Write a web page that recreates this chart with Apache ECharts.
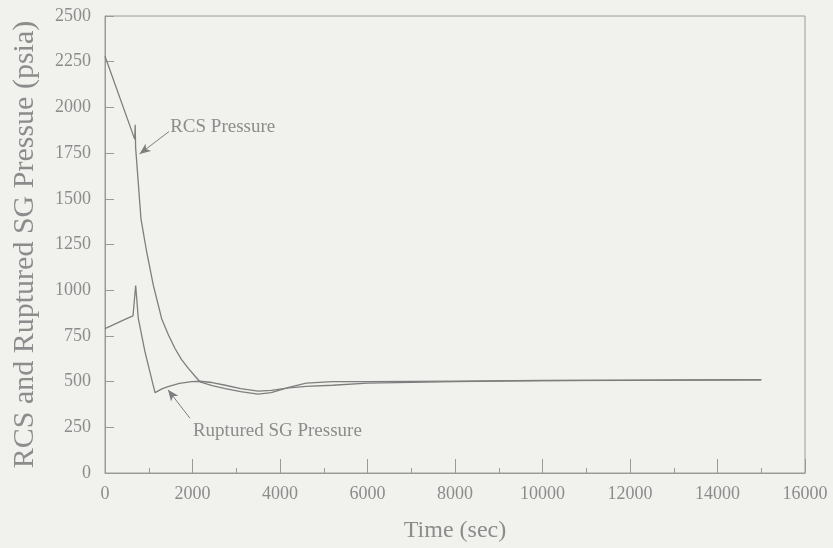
<!DOCTYPE html>
<html>
<head>
<meta charset="utf-8">
<script src="https://cdn.jsdelivr.net/npm/echarts@6/dist/echarts.min.js"></script>
<style>
  html, body { margin: 0; padding: 0; background: #f1f1ee; }
  #chart { width: 833px; height: 548px; }
</style>
</head>
<body>
<div id="chart"></div>
<script>
// Time (sec) and pressure (psia)
const rcsTime  = [0, 680, 690, 700, 823, 953, 1105, 1295, 1450, 1600, 1750, 1905, 2050, 2171, 2450, 2750, 3100, 3500, 3800, 4200, 4600, 5200, 6000, 8000, 10000, 12000, 15000];
const rcsPress = [2280, 1825, 1905, 1780, 1389, 1209, 1026, 844, 755, 681, 620, 572, 532, 499, 478, 462, 445, 432, 440, 468, 492, 500, 500, 503, 506, 508, 510];

const sgTime  = [0, 457, 640, 701, 762, 914, 1143, 1300, 1440, 1700, 1981, 2171, 2450, 2750, 3100, 3500, 3800, 4200, 4600, 5200, 6000, 8000, 10000, 12000, 15000];
const sgPress = [790, 840, 860, 1026, 844, 663, 440, 460, 472, 490, 500, 502, 495, 480, 462, 448, 452, 466, 474, 480, 492, 500, 505, 507, 510];

const xTicks = [0, 2000, 4000, 6000, 8000, 10000, 12000, 14000, 16000];
const yTicks = [0, 250, 500, 750, 1000, 1250, 1500, 1750, 2000, 2250, 2500];

// annotation anchors in data units: text position, arrow tail, arrow head
const rcsNote = { text: 'RCS Pressure', at: [1490, 1895], tail: [1463, 1868], head: [790, 1745] };
const sgNote  = { text: 'Ruptured SG Pressure', at: [2010, 230], tail: [1940, 300], head: [1440, 455] };

const ink = '#8c8c8c';
const lineInk = '#7e7e7e';
const axisInk = '#9a9a9a';
const font = '"Liberation Serif", "DejaVu Serif", serif';

const pair = (xs, ys) => xs.map((x, i) => [x, ys[i]]);

const chart = echarts.init(document.getElementById('chart'));
chart.setOption({
  backgroundColor: '#f1f1ee',
  animation: false,
  grid: { left: 105, right: 28, top: 16, bottom: 73, show: true, borderColor: axisInk, borderWidth: 1 },
  xAxis: {
    type: 'value', min: xTicks[0], max: xTicks[xTicks.length - 1], interval: 2000,
    name: 'Time (sec)', nameLocation: 'middle', nameGap: 46,
    nameTextStyle: { color: ink, fontFamily: font, fontSize: 24 },
    axisLine: { show: true, lineStyle: { color: axisInk } },
    axisTick: { show: true, inside: true, length: 14, lineStyle: { color: axisInk } },
    minorTick: { show: true, splitNumber: 2, length: 5, lineStyle: { color: axisInk } },
    splitLine: { show: false },
    axisLabel: { color: ink, fontFamily: font, fontSize: 18, margin: 12, formatter: v => String(v) }
  },
  yAxis: {
    type: 'value', min: yTicks[0], max: yTicks[yTicks.length - 1], interval: 250,
    name: 'RCS and Ruptured SG Pressue (psia)', nameLocation: 'middle', nameGap: 65,
    nameTextStyle: { color: ink, fontFamily: font, fontSize: 30 },
    axisLine: { show: true, lineStyle: { color: axisInk } },
    axisTick: { show: true, inside: true, length: 9, lineStyle: { color: axisInk } },
    splitLine: { show: false },
    axisLabel: { color: ink, fontFamily: font, fontSize: 18, margin: 14, formatter: v => String(v) }
  },
  series: [
    {
      name: 'RCS Pressure', type: 'line', data: pair(rcsTime, rcsPress),
      showSymbol: false, smooth: false,
      lineStyle: { color: lineInk, width: 1.3 },
      markLine: {
        silent: true, symbol: ['none', 'arrow'], symbolSize: [7, 11],
        label: { show: false },
        lineStyle: { color: lineInk, width: 1, type: 'solid' },
        data: [
          [{ coord: rcsNote.tail }, { coord: rcsNote.head }],
          [{ coord: sgNote.tail }, { coord: sgNote.head }]
        ]
      }
    },
    {
      name: 'Ruptured SG Pressure', type: 'line', data: pair(sgTime, sgPress),
      showSymbol: false, smooth: false,
      lineStyle: { color: lineInk, width: 1.3 }
    }
  ]
});

function place(note) {
  const p = chart.convertToPixel({ gridIndex: 0 }, note.at);
  return {
    type: 'text', x: p[0], y: p[1],
    style: { text: note.text, fill: ink, font: '19px ' + font, textVerticalAlign: 'middle', textAlign: 'left' }
  };
}
chart.setOption({ graphic: [place(rcsNote), place(sgNote)] });
</script>
</body>
</html>
